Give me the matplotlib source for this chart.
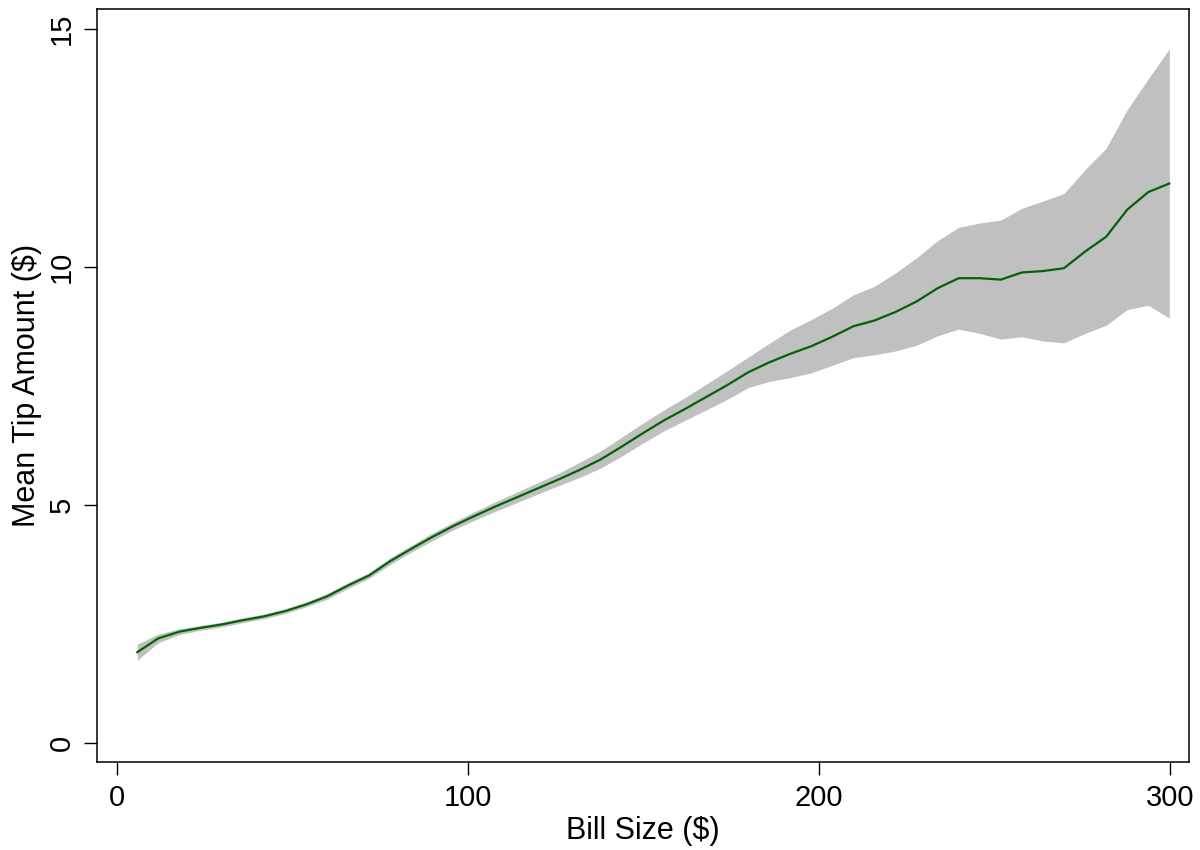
import matplotlib
matplotlib.use("Agg")
import matplotlib.pyplot as plt
import numpy as np

plt.rcParams['font.family'] = ['Liberation Sans', 'DejaVu Sans']

# local mean of tip vs bill size, with confidence band
bill = [5.8, 11.8, 17.8, 23.8, 29.8, 35.8, 41.8, 47.8, 53.8, 59.8,
        65.8, 71.8, 77.8, 83.8, 89.8, 95.8, 101.8, 107.8, 113.8, 119.8,
        125.8, 131.8, 137.8, 143.8, 149.8, 155.8, 161.8, 167.8, 173.8, 179.8,
        185.8, 191.8, 197.8, 203.8, 209.8, 215.8, 221.8, 227.8, 233.8, 239.8,
        245.8, 251.8, 257.8, 263.8, 269.8, 275.8, 281.8, 287.8, 293.8, 299.8]
tip_mean = [1.90, 2.19, 2.33, 2.41, 2.48, 2.57, 2.65, 2.76, 2.90, 3.07,
            3.30, 3.51, 3.81, 4.07, 4.32, 4.55, 4.76, 4.96, 5.15, 5.34,
            5.53, 5.73, 5.95, 6.22, 6.50, 6.77, 7.01, 7.26, 7.51, 7.78,
            7.99, 8.17, 8.33, 8.53, 8.75, 8.87, 9.05, 9.27, 9.55, 9.76,
            9.76, 9.73, 9.88, 9.91, 9.97, 10.32, 10.63, 11.20, 11.57, 11.75]
tip_lo = [1.73, 2.10, 2.27, 2.36, 2.43, 2.52, 2.60, 2.71, 2.85, 3.01,
          3.24, 3.45, 3.74, 4.00, 4.24, 4.47, 4.67, 4.86, 5.04, 5.22,
          5.40, 5.57, 5.77, 6.02, 6.29, 6.55, 6.77, 6.99, 7.21, 7.46,
          7.59, 7.67, 7.77, 7.93, 8.09, 8.15, 8.23, 8.35, 8.55, 8.69,
          8.60, 8.48, 8.53, 8.44, 8.40, 8.60, 8.77, 9.10, 9.19, 8.92]
tip_hi = [2.07, 2.28, 2.39, 2.46, 2.53, 2.62, 2.70, 2.81, 2.95, 3.13,
          3.36, 3.57, 3.88, 4.14, 4.40, 4.63, 4.85, 5.06, 5.26, 5.46,
          5.66, 5.89, 6.13, 6.42, 6.71, 6.99, 7.25, 7.53, 7.81, 8.10,
          8.39, 8.67, 8.89, 9.13, 9.41, 9.59, 9.87, 10.19, 10.55, 10.83,
          10.92, 10.98, 11.23, 11.38, 11.54, 12.04, 12.49, 13.30, 13.95, 14.58]

fig = plt.figure(figsize=(12, 8.5), dpi=100)
ax = fig.add_axes([0.0808, 0.1035, 0.91, 0.886])

ax.fill_between(bill, tip_lo, tip_hi, color="#c0c0c0", linewidth=0)
ax.plot(bill, tip_mean, color="#006400", linewidth=1.6)

ax.set_xlim(-5.7, 305.4)
ax.set_ylim(-0.41, 15.42)
ax.set_xticks([0, 100, 200, 300])
ax.set_yticks([0, 5, 10, 15])

for s in ax.spines.values():
    s.set_linewidth(1.1)
ax.tick_params(axis="both", direction="out", length=9.5, width=1.0,
               labelsize=21, top=False, right=False)
ax.tick_params(axis="x", pad=6)
ax.tick_params(axis="y", pad=6)
for lab in ax.get_yticklabels():
    lab.set_rotation(90)
    lab.set_va("center")

ax.set_xlabel(r"Bill Size (\$)", fontsize=22, labelpad=3)
ax.set_ylabel(r"Mean Tip Amount (\$)", fontsize=22, labelpad=4)

fig.savefig("out.png", dpi=100)
